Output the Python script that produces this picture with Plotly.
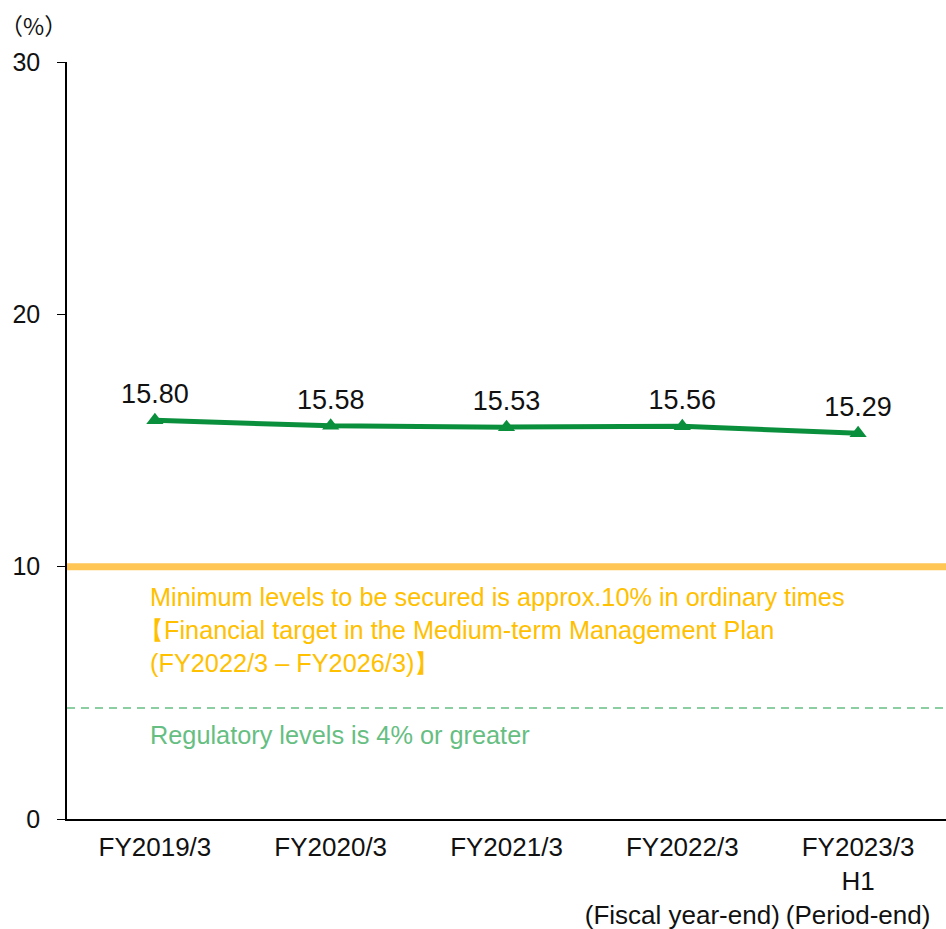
import plotly.graph_objects as go

# Capital adequacy ratio by period
categories = ["FY2019/3", "FY2020/3", "FY2021/3", "FY2022/3<br> <br>(Fiscal year-end)",
              "FY2023/3<br>H1<br>(Period-end)"]
ratios = [15.80, 15.58, 15.53, 15.56, 15.29]
target_level = 10
regulatory_level = 4.4
y_ticks = [0, 10, 20, 30]
target_note = [
    "Minimum levels to be secured is approx.10% in ordinary times",
    "【Financial target in the Medium-term Management Plan",
    "(FY2022/3 – FY2026/3)】",
]

FONT = "Liberation Sans, Arial, sans-serif"
GREEN = "#0A8F3D"
ORANGE = "#FFC000"
LIGHT_GREEN = "#66BE82"

fig = go.Figure()

fig.add_trace(go.Scatter(
    x=categories, y=ratios,
    mode="lines+markers+text",
    line=dict(color=GREEN, width=5),
    marker=dict(symbol="triangle-up", size=15, color=GREEN),
    text=[f"{v:.2f}" for v in ratios],
    textposition="top center",
    textfont=dict(size=27, color="#111111", family=FONT),
    cliponaxis=False,
    showlegend=False,
))

# Medium-term target line and regulatory floor
fig.add_shape(type="line", xref="paper", yref="y", x0=0, x1=1,
              y0=target_level, y1=target_level,
              line=dict(color="#FFC656", width=7), layer="below")
fig.add_shape(type="line", xref="paper", yref="y", x0=0, x1=1,
              y0=regulatory_level, y1=regulatory_level,
              line=dict(color=LIGHT_GREEN, width=1.5, dash="8px,6px"), layer="below")

# Target note, one line at a time (the CJK bracket line is nudged left)
for i, line in enumerate(target_note):
    fig.add_annotation(
        xref="paper", yref="y", x=0.092, y=target_level - 0.55,
        xanchor="left", yanchor="top", align="left", showarrow=False,
        xshift=-11 if line.startswith("【") else 0, yshift=-33 * i,
        text=line,
        font=dict(size=25.3, color=ORANGE, family=FONT),
    )
fig.add_annotation(
    xref="paper", yref="y", x=0.092, y=regulatory_level - 0.45,
    xanchor="left", yanchor="top", align="left", showarrow=False,
    text="Regulatory levels is 4% or greater",
    font=dict(size=25.3, color=LIGHT_GREEN, family=FONT),
)
fig.add_annotation(
    xref="paper", yref="paper", x=-0.078, y=1.0,
    xanchor="left", yanchor="bottom", yshift=18, showarrow=False,
    text="（%）", font=dict(size=23, color="#111111",
                          family="Noto Sans CJK JP, sans-serif"),
)

fig.update_layout(
    width=946, height=929,
    margin=dict(l=67, r=0, t=62, b=110),
    paper_bgcolor="white", plot_bgcolor="white",
    font=dict(family=FONT, size=26, color="#111111"),
)
fig.update_xaxes(
    range=[-0.5, 4.5], tickangle=0, automargin=False,
    showline=True, linecolor="#000000", linewidth=1.5,
    showgrid=False, ticks="", tickfont=dict(size=26),
    ticklabelstandoff=4,
)
fig.update_yaxes(
    range=[0, 30], tickvals=y_ticks, automargin=False,
    showline=True, linecolor="#000000", linewidth=1.5,
    showgrid=False, zeroline=False,
    ticks="outside", ticklen=8, tickcolor="#000000", tickwidth=1,
    ticklabelstandoff=12,
    tickfont=dict(size=25),
)

fig.write_html("out.html")
